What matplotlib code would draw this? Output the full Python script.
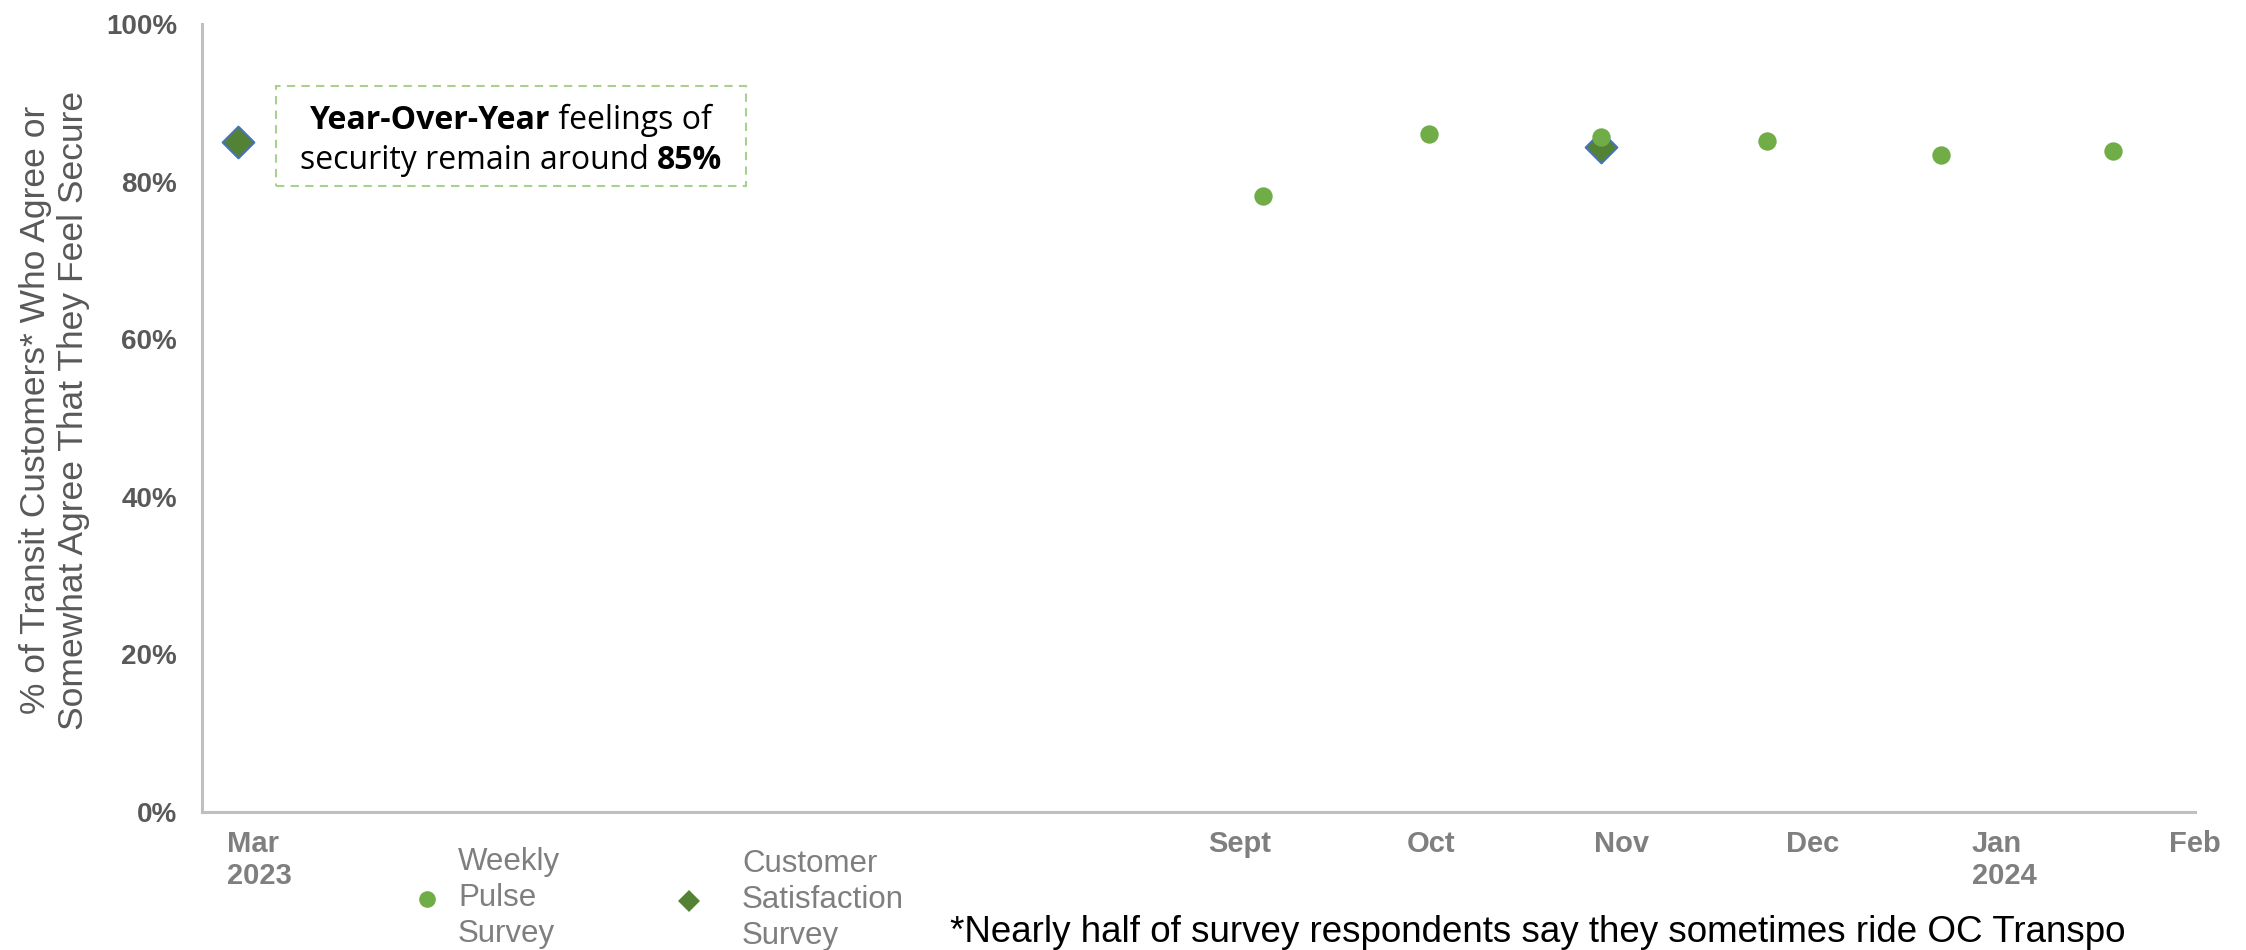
import matplotlib
matplotlib.use("Agg")
import matplotlib.pyplot as plt
from matplotlib import font_manager
from matplotlib.lines import Line2D
from matplotlib.patches import Rectangle
from matplotlib.offsetbox import TextArea, HPacker, VPacker, AnnotationBbox

# month slots on the x axis (Sept 2023 = 0); Mar 2023 sits at the far left
month_pos = [-5.13, 0, 1, 2, 3, 4, 5]
month_labels = ["Mar\n2023", "Sept", "Oct", "Nov", "Dec", "Jan\n2024", "Feb"]

# Weekly Pulse Survey (% who agree / somewhat agree they feel secure)
pulse_x = [0.12, 0.99, 1.89, 2.76, 3.67, 4.57]
pulse_y = [78.2, 86.0, 85.7, 85.2, 83.4, 83.9]

# Customer Satisfaction Survey
css_x = [-5.24, 1.89]
css_y = [85.0, 84.4]

y_ticks = [0, 20, 40, 60, 80, 100]

names = {f.name for f in font_manager.fontManager.ttflist}
narrow = "Liberation Sans Narrow" if "Liberation Sans Narrow" in names else "Liberation Sans"
regular = "Liberation Sans"

W, H = 2246, 950
fig = plt.figure(figsize=(W / 100, H / 100), dpi=100)
ax = fig.add_axes([202 / W, 138 / H, (2195 - 202) / W, (812 - 24) / H])

ax.scatter(css_x, css_y, marker="D", s=260, color="#548235",
           edgecolor="#4472c4", linewidth=1.5, zorder=3)
ax.scatter(pulse_x, pulse_y, marker="o", s=175, color="#70ad47",
           linewidth=0, zorder=4)

ax.set_xlim(-5.43, 4.97)
ax.set_ylim(0, 100)

ax.set_yticks(y_ticks)
ax.set_yticklabels([f"{t}%" for t in y_ticks], fontfamily=regular,
                   fontweight="bold", fontsize=20, color="#595959")
ax.set_xticks(month_pos)
ax.set_xticklabels(month_labels, fontfamily=narrow, fontweight="bold",
                   fontsize=21, color="#7f7f7f", multialignment="left")
ax.tick_params(axis="y", length=0, pad=18)
ax.tick_params(axis="x", length=0, pad=13)

for side in ["top", "right"]:
    ax.spines[side].set_visible(False)
for side in ["left", "bottom"]:
    ax.spines[side].set_color("#bfbfbf")
    ax.spines[side].set_linewidth(2.2)

ax.set_ylabel("% of Transit Customers* Who Agree or\nSomewhat Agree That They Feel Secure",
              fontfamily=regular, fontsize=25.5, color="#595959", va="center")
ax.yaxis.set_label_coords(-0.074, 0.51)

# callout box
fig.patches.append(Rectangle((276 / W, 1 - 186 / H), 470 / W, 100 / H,
                             transform=fig.transFigure, fill=False,
                             edgecolor="#a9d18e", linestyle=(0, (4, 3)),
                             linewidth=1.5))
tp = dict(fontfamily="Open Sans", fontsize=23, color="black")
tb = dict(tp, fontweight="bold")
line1 = HPacker(children=[TextArea("Year-Over-Year", textprops=tb),
                          TextArea(" feelings of", textprops=tp)], sep=0, pad=0)
line2 = HPacker(children=[TextArea("security remain around ", textprops=tp),
                          TextArea("85%", textprops=tb)], sep=0, pad=0)
box = VPacker(children=[line1, line2], align="center", sep=5, pad=0)
fig.add_artist(AnnotationBbox(box, (511 / W, 1 - 140 / H), xycoords="figure fraction",
                              frameon=False, box_alignment=(0.5, 0.5)))

# legend, one entry per block
fs = 22.5
fpx = fs * 100 / 72
leg1 = fig.legend(handles=[Line2D([], [], marker="o", ls="", color="#70ad47",
                                  markersize=12, markeredgewidth=0)],
                  labels=["Weekly\nPulse\nSurvey"], frameon=False,
                  loc="center left", bbox_to_anchor=((427 - fpx / 2) / W, 1 - 898 / H),
                  handlelength=1, handletextpad=(458 - 427 - fpx / 2) / fpx,
                  borderpad=0, borderaxespad=0,
                  prop=dict(family=narrow, size=fs))
for t in leg1.get_texts():
    t.set_color("#7f7f7f")
    t.set_linespacing(1.25)
leg2 = fig.legend(handles=[Line2D([], [], marker="D", ls="", color="#548235",
                                  markersize=11, markeredgewidth=0)],
                  labels=["Customer\nSatisfaction\nSurvey"], frameon=False,
                  loc="center left", bbox_to_anchor=((689 - fpx / 2) / W, 1 - 900 / H),
                  handlelength=1, handletextpad=(742 - 689 - fpx / 2) / fpx,
                  borderpad=0, borderaxespad=0,
                  prop=dict(family=narrow, size=fs))
for t in leg2.get_texts():
    t.set_color("#7f7f7f")
    t.set_linespacing(1.25)

fig.text(950 / W, 8 / H, "*Nearly half of survey respondents say they sometimes ride OC Transpo",
         fontfamily=narrow, fontsize=26.5, color="black", va="baseline", ha="left")

fig.savefig("out.png", dpi=100)
